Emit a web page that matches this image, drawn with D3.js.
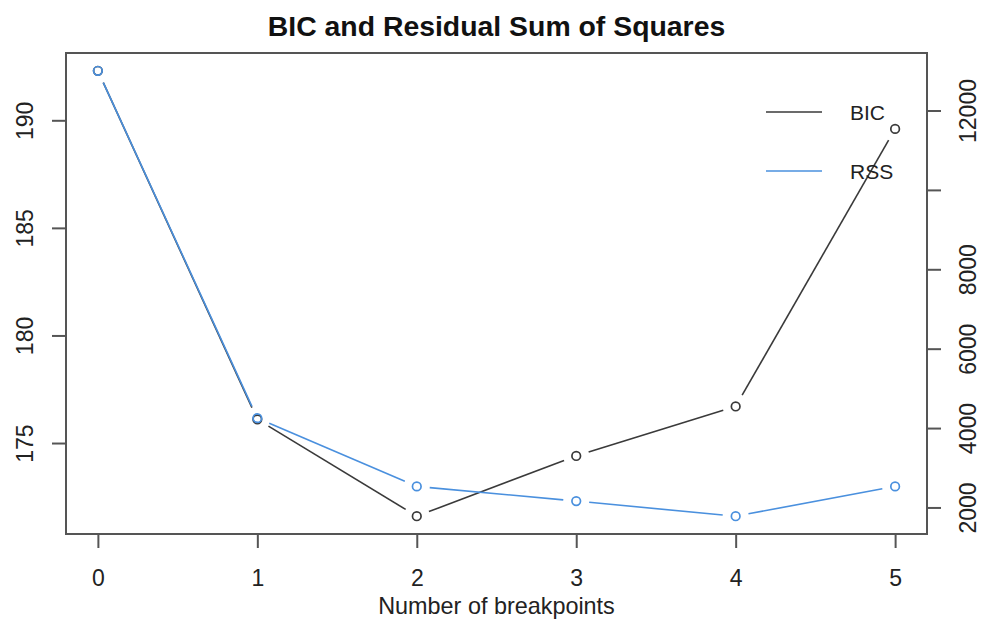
<!DOCTYPE html>
<html>
<head>
<meta charset="utf-8">
<script src="https://cdn.jsdelivr.net/npm/d3@7"></script>
<style>
  html, body { margin: 0; padding: 0; background: #fff; }
  svg { display: block; font-family: "Liberation Sans", Arial, sans-serif; }
</style>
</head>
<body>
<svg id="chart" width="984" height="621"></svg>
<script>
// Model selection: BIC and RSS by number of breakpoints
const breakpoints = [0, 1, 2, 3, 4, 5];
const bicValues = [192.3, 176.1, 171.6, 174.4, 176.7, 189.6];
const rssValues = [13000, 4250, 2530, 2160, 1780, 2530];
const bicTicks = [175, 180, 185, 190];
const rssTicks = [2000, 4000, 6000, 8000, 10000, 12000];
const rssTickLabels = ["2000", "4000", "6000", "8000", "", "12000"];
const seriesNames = ["BIC", "RSS"];
const seriesColors = ["#3a3a3a", "#4a90de"];

const svg = d3.select("#chart");
const box = { left: 66, right: 927, top: 53, bottom: 534 };

// R-style 4% padding on every data range
function padded(ext) {
  const d = (ext[1] - ext[0]) * 0.04;
  return [ext[0] - d, ext[1] + d];
}

const x = d3.scaleLinear().domain(padded(d3.extent(breakpoints))).range([box.left, box.right]);
const yBic = d3.scaleLinear().domain(padded(d3.extent(bicValues))).range([box.bottom, box.top]);
const yRss = d3.scaleLinear().domain(padded(d3.extent(rssValues))).range([box.bottom, box.top]);

const axisColor = "#555";
const textColor = "#222";

// Title
svg.append("text")
  .attr("x", (box.left + box.right) / 2)
  .attr("y", 36)
  .attr("text-anchor", "middle")
  .attr("font-size", 28.4)
  .attr("font-weight", "bold")
  .attr("fill", "#111")
  .text("BIC and Residual Sum of Squares");

// Plot frame
svg.append("rect")
  .attr("x", box.left).attr("y", box.top)
  .attr("width", box.right - box.left).attr("height", box.bottom - box.top)
  .attr("fill", "none").attr("stroke", axisColor).attr("stroke-width", 2);

function styleAxis(g) {
  g.select(".domain").remove();
  g.selectAll(".tick line").attr("stroke", axisColor).attr("stroke-width", 2);
  g.selectAll(".tick text").attr("fill", textColor).attr("font-size", 23);
}

// Bottom axis
const gx = svg.append("g")
  .attr("transform", `translate(0,${box.bottom})`)
  .call(d3.axisBottom(x).tickValues(breakpoints).tickSize(14).tickFormat(d3.format("d")));
styleAxis(gx);
gx.selectAll(".tick text").attr("y", 52).attr("dy", 0);

// Left axis (BIC), labels parallel to the axis
const gl = svg.append("g")
  .attr("transform", `translate(${box.left},0)`)
  .call(d3.axisLeft(yBic).tickValues(bicTicks).tickSize(14));
styleAxis(gl);
gl.selectAll(".tick text")
  .attr("transform", "rotate(-90)")
  .attr("x", 0).attr("y", -33).attr("dy", 0)
  .attr("text-anchor", "middle");

// Right axis (RSS)
const gr = svg.append("g")
  .attr("transform", `translate(${box.right},0)`)
  .call(d3.axisRight(yRss).tickValues(rssTicks).tickSize(14)
    .tickFormat((d, i) => rssTickLabels[i]));
styleAxis(gr);
gr.selectAll(".tick text")
  .attr("transform", "rotate(-90)")
  .attr("x", 0).attr("y", 49).attr("dy", 0)
  .attr("text-anchor", "middle");

// X axis title
svg.append("text")
  .attr("x", (box.left + box.right) / 2)
  .attr("y", 614)
  .attr("text-anchor", "middle")
  .attr("font-size", 23.4)
  .attr("fill", textColor)
  .text("Number of breakpoints");

// type = "b": segments stop short of each point marker
const gap = 13;
function drawSeries(values, yScale, color) {
  const pts = breakpoints.map((b, i) => [x(b), yScale(values[i])]);
  const g = svg.append("g");
  for (let i = 0; i < pts.length - 1; i++) {
    const [x1, y1] = pts[i], [x2, y2] = pts[i + 1];
    const len = Math.hypot(x2 - x1, y2 - y1);
    if (len <= 2 * gap) continue;
    const ux = (x2 - x1) / len, uy = (y2 - y1) / len;
    g.append("line")
      .attr("x1", x1 + ux * gap).attr("y1", y1 + uy * gap)
      .attr("x2", x2 - ux * gap).attr("y2", y2 - uy * gap)
      .attr("stroke", color).attr("stroke-width", 1.6);
  }
  g.selectAll("circle").data(pts).join("circle")
    .attr("cx", d => d[0]).attr("cy", d => d[1]).attr("r", 4.3)
    .attr("fill", "none").attr("stroke", color).attr("stroke-width", 1.7);
}

drawSeries(bicValues, yBic, seriesColors[0]);
drawSeries(rssValues, yRss, seriesColors[1]);

// Legend
const legend = svg.append("g");
seriesNames.forEach((name, i) => {
  const yy = 112 + i * 59;
  legend.append("line")
    .attr("x1", 766).attr("x2", 822).attr("y1", yy).attr("y2", yy)
    .attr("stroke", seriesColors[i]).attr("stroke-width", 1.6);
  legend.append("text")
    .attr("x", 850).attr("y", yy + 8)
    .attr("font-size", 21)
    .attr("fill", textColor)
    .text(name);
});
</script>
</body>
</html>
